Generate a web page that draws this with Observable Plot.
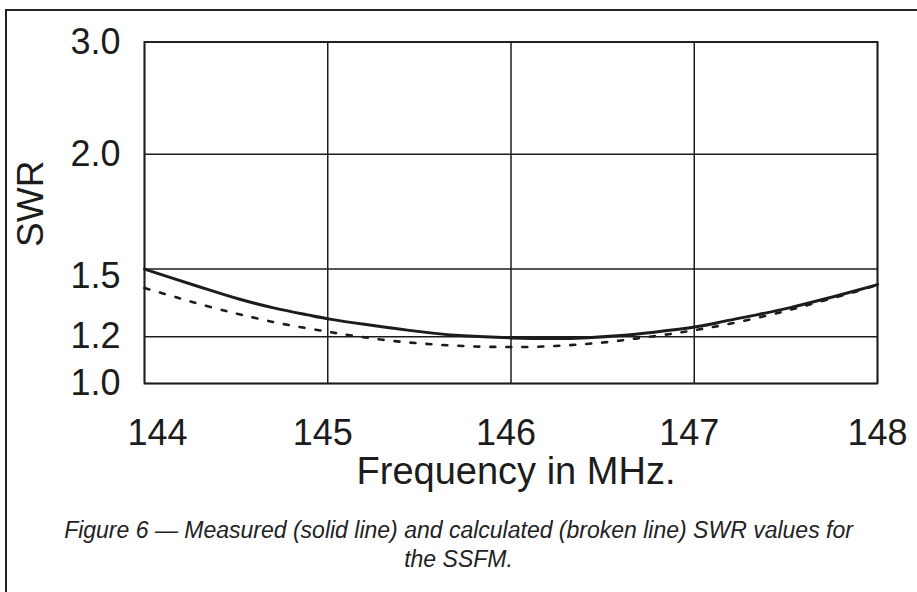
<!DOCTYPE html>
<html>
<head>
<meta charset="utf-8">
<script src="https://cdn.jsdelivr.net/npm/d3@7"></script>
<script src="https://cdn.jsdelivr.net/npm/@observablehq/plot@0.6"></script>
<style>
  html, body { margin: 0; padding: 0; background: #fff; }
  body { width: 917px; height: 592px; position: relative; overflow: hidden; font-family: "Liberation Sans", Arial, sans-serif; }
  #frame { position: absolute; left: 5px; top: 9px; width: 920px; height: 600px; border-top: 2px solid #222; border-left: 2px solid #222; }
  #chart { position: absolute; left: 0; top: 0; }
  #caption { position: absolute; left: 0; top: 516px; width: 917px; text-align: center; font-style: italic; font-size: 23px; line-height: 29px; color: #222; }
</style>
</head>
<body>
<div id="frame"></div>
<div id="chart"></div>
<div id="caption">Figure 6 — Measured (solid line) and calculated (broken line) SWR values for<br>the SSFM.</div>
<script>
// Frequency ticks (MHz) and SWR ticks
const freqTicks = [144, 145, 146, 147, 148];
const swrTicks = [1.0, 1.2, 1.5, 2.0, 3.0];
// relative height of each SWR gridline on the chart's (non-linear) SWR scale
const swrTickHeight = [0, 0.137, 0.335, 0.671, 1];

// Measured (solid line)
const freqMeasured = [144.00, 144.16, 144.34, 144.52, 144.71, 144.89, 145.02, 145.20, 145.38, 145.56, 145.74, 146.00, 146.23, 146.42, 146.60, 146.78, 147.01, 147.16, 147.34, 147.53, 147.71, 147.89, 148.00];
const swrMeasured  = [1.500, 1.458, 1.411, 1.366, 1.327, 1.297, 1.277, 1.255, 1.235, 1.217, 1.204, 1.195, 1.192, 1.196, 1.205, 1.220, 1.244, 1.268, 1.297, 1.330, 1.367, 1.406, 1.431];

// Calculated (broken line)
const freqCalc = [144.00, 144.10, 144.19, 144.27, 144.36, 144.45, 144.53, 144.62, 144.71, 144.80, 144.89, 144.98, 145.06, 145.15, 145.24, 145.33, 145.42, 145.51, 145.60, 145.69, 145.78, 145.87, 145.96, 146.05, 146.14, 146.23, 146.32, 146.41, 146.50, 146.59, 146.68, 146.77, 146.86, 146.94, 147.03, 147.16, 147.34, 147.53, 147.71, 147.89, 148.00];
const swrCalc  = [1.416, 1.392, 1.371, 1.352, 1.332, 1.313, 1.297, 1.280, 1.264, 1.250, 1.237, 1.225, 1.214, 1.203, 1.193, 1.184, 1.177, 1.171, 1.166, 1.162, 1.159, 1.157, 1.156, 1.156, 1.157, 1.160, 1.164, 1.169, 1.175, 1.183, 1.192, 1.201, 1.211, 1.221, 1.233, 1.252, 1.283, 1.321, 1.361, 1.402, 1.431];

const measured = freqMeasured.map((f, i) => ({f, swr: swrMeasured[i]}));
const calculated = freqCalc.map((f, i) => ({f, swr: swrCalc[i]}));

const swrScale = d3.scaleLinear().domain(swrTicks).range(swrTickHeight);

const ink = "#1c1c1c";
const fmtY = d3.format(".1f");
const fmtX = d => String(d);
const chart = Plot.plot({
  width: 917,
  height: 470,
  marginLeft: 144,
  marginRight: 40,
  marginTop: 41.5,
  marginBottom: 87,
  style: {fontFamily: "'Liberation Sans', Arial, sans-serif", fontSize: "36px", color: ink, background: "transparent", overflow: "visible"},
  x: {domain: [144, 148], axis: null},
  y: {transform: swrScale, domain: [0, 1], axis: null},
  marks: [
    Plot.gridX(freqTicks, {stroke: ink, strokeOpacity: 1, strokeWidth: 1.5}),
    Plot.gridY(swrTicks, {stroke: ink, strokeOpacity: 1, strokeWidth: 1.5}),
    Plot.frame({stroke: ink, strokeWidth: 1.8}),
    Plot.line(calculated, {x: "f", y: "swr", curve: "natural", stroke: ink, strokeWidth: 2.6, strokeDasharray: "5,11"}),
    Plot.line(measured, {x: "f", y: "swr", curve: "natural", stroke: ink, strokeWidth: 3}),
    Plot.axisX([144], {tickSize: 0, tickPadding: 36, dx: 13, tickFormat: fmtX, label: null, fontSize: 36}),
    Plot.axisX([145, 146, 147], {tickSize: 0, tickPadding: 36, dx: -5, tickFormat: fmtX, label: null, fontSize: 36}),
    Plot.axisX([148], {tickSize: 0, tickPadding: 36, tickFormat: fmtX, label: null, fontSize: 36}),
    Plot.axisY([1.0, 1.2, 2.0, 3.0], {tickSize: 0, tickPadding: 24, tickFormat: fmtY, label: null, fontSize: 36}),
    Plot.axisY([1.5], {tickSize: 0, tickPadding: 24, dy: 7, tickFormat: fmtY, label: null, fontSize: 36}),
    Plot.text(["Frequency in MHz."], {frameAnchor: "bottom", lineAnchor: "middle", dy: 88, dx: 5, fontSize: 38, fill: ink}),
    Plot.text(["SWR"], {frameAnchor: "left", textAnchor: "middle", lineAnchor: "middle", rotate: -90, dx: -113, dy: -9, fontSize: 37, fill: ink})
  ]
});
document.getElementById("chart").appendChild(chart);
</script>
</body>
</html>
